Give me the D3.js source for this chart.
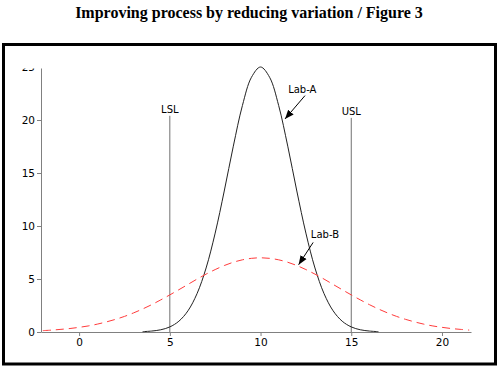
<!DOCTYPE html>
<html><head><meta charset="utf-8">
<script src="https://cdn.jsdelivr.net/npm/d3@7"></script>
<style>body{margin:0;background:#fff}svg{display:block}</style>
</head><body>
<svg id="c" width="500" height="368"></svg>
<script>
const titleText = "Improving process by reducing variation / Figure 3";
const xTicks = [0, 5, 10, 15, 20];
const yTicks = [0, 5, 10, 15, 20, 25];
// Lab-A (narrow curve)
const labAx = [3.5,4,4.5,5,5.5,6,6.5,7,7.5,8,8.5,9,9.5,10,10.5,11,11.5,12,12.5,13,13.5,14,14.5,15,15.5,16,16.5];
const labAy = [0.03,0.09,0.21,0.48,1.02,2.00,3.62,6.04,9.33,13.30,17.53,21.36,24.03,25.0,24.03,21.36,17.53,13.30,9.33,6.04,3.62,2.00,1.02,0.48,0.21,0.09,0.03];
// Lab-B (wide curve)
const labBx = [-2,-1.5,-1,-0.5,0,0.5,1,1.5,2,2.5,3,3.5,4,4.5,5,5.5,6,6.5,7,7.5,8,8.5,9,9.5,10,10.5,11,11.5,12,12.5,13,13.5,14,14.5,15,15.5,16,16.5,17,17.5,18,18.5,19,19.5,20,20.5,21,21.5];
const labBy = [0.13,0.18,0.25,0.33,0.44,0.57,0.74,0.95,1.19,1.47,1.80,2.17,2.58,3.03,3.50,3.99,4.49,4.99,5.46,5.89,6.27,6.58,6.81,6.95,7.00,6.95,6.81,6.58,6.27,5.89,5.46,4.99,4.49,3.99,3.50,3.03,2.58,2.17,1.80,1.47,1.19,0.95,0.74,0.57,0.44,0.33,0.25,0.18];
const specNames = ["LSL", "USL"];
const specValues = [5, 15];
const specTops = [20.4, 20.2];
const annNames = ["Lab-A", "Lab-B"];
const annFrom = [[12.45, 22.3], [12.9, 8.45]];
const annTo = [[11.35, 20.1], [12.1, 6.35]];
const annText = [[12.3, 22.55], [13.55, 8.85]];

const svg = d3.select("#c");
svg.append("text").attr("x", 249).attr("y", 18).attr("text-anchor", "middle")
  .style("font-family", "'Liberation Serif','Times New Roman',serif")
  .style("font-weight", "bold").style("font-size", "16px").text(titleText);

svg.append("rect").attr("x", 3.5).attr("y", 44.5).attr("width", 492).attr("height", 319.5)
  .attr("fill", "none").attr("stroke", "#000").attr("stroke-width", 3);

const x = d3.scaleLinear().domain([-2.1, 21.6]).range([41, 471]);
const y = d3.scaleLinear().domain([0, 25]).range([332, 67]);

const defs = svg.append("defs");
defs.append("clipPath").attr("id", "clipA").append("rect")
  .attr("x", -41).attr("y", 68.5).attr("width", 500).attr("height", 300);
defs.append("marker").attr("id", "arr").attr("viewBox", "0 0 10 10").attr("refX", 10).attr("refY", 5)
  .attr("markerWidth", 9).attr("markerHeight", 9).attr("markerUnits", "userSpaceOnUse").attr("orient", "auto")
  .append("path").attr("d", "M0,1 L10,5 L0,9 Z").attr("fill", "#000");

const font = "'DejaVu Sans',Verdana,sans-serif";

const gx = svg.append("g").attr("transform", "translate(0,332)")
  .call(d3.axisBottom(x).tickValues(xTicks).tickSize(4).tickPadding(3).tickSizeOuter(0));
const gy = svg.append("g").attr("transform", "translate(41,0)").attr("clip-path", "url(#clipA)")
  .call(d3.axisLeft(y).tickValues(yTicks).tickSize(4).tickPadding(2).tickSizeOuter(0));
[gx, gy].forEach(g => {
  g.selectAll("path,line").attr("stroke", "#808080");
  g.selectAll("text").attr("fill", "#000").style("font-family", font).style("font-size", "10.5px");
});

// spec limits
specValues.forEach((v, i) => {
  svg.append("line").attr("x1", x(v)).attr("x2", x(v)).attr("y1", y(0)).attr("y2", y(specTops[i]))
    .attr("stroke", "#707070").attr("stroke-width", 1);
  svg.append("text").attr("x", x(v)).attr("y", y(specTops[i]) - 3).attr("text-anchor", "middle")
    .style("font-family", font).style("font-size", "10px").text(specNames[i]);
});

const lineA = d3.line().x((d, i) => x(labAx[i])).y(d => y(d)).curve(d3.curveCatmullRom);
svg.append("path").attr("d", lineA(labAy)).attr("fill", "none").attr("stroke", "#222").attr("stroke-width", 1);

const lineB = d3.line().x((d, i) => x(labBx[i])).y(d => y(d)).curve(d3.curveCatmullRom);
svg.append("path").attr("d", lineB(labBy)).attr("fill", "none").attr("stroke", "#ff3b3b")
  .attr("stroke-width", 1).attr("stroke-dasharray", "8,5");

annNames.forEach((n, i) => {
  svg.append("line").attr("x1", x(annFrom[i][0])).attr("y1", y(annFrom[i][1]))
    .attr("x2", x(annTo[i][0])).attr("y2", y(annTo[i][1]))
    .attr("stroke", "#000").attr("stroke-width", 1).attr("marker-end", "url(#arr)");
  svg.append("text").attr("x", x(annText[i][0])).attr("y", y(annText[i][1])).attr("text-anchor", "middle")
    .style("font-family", font).style("font-size", "10px").text(n);
});
</script>
</body></html>
